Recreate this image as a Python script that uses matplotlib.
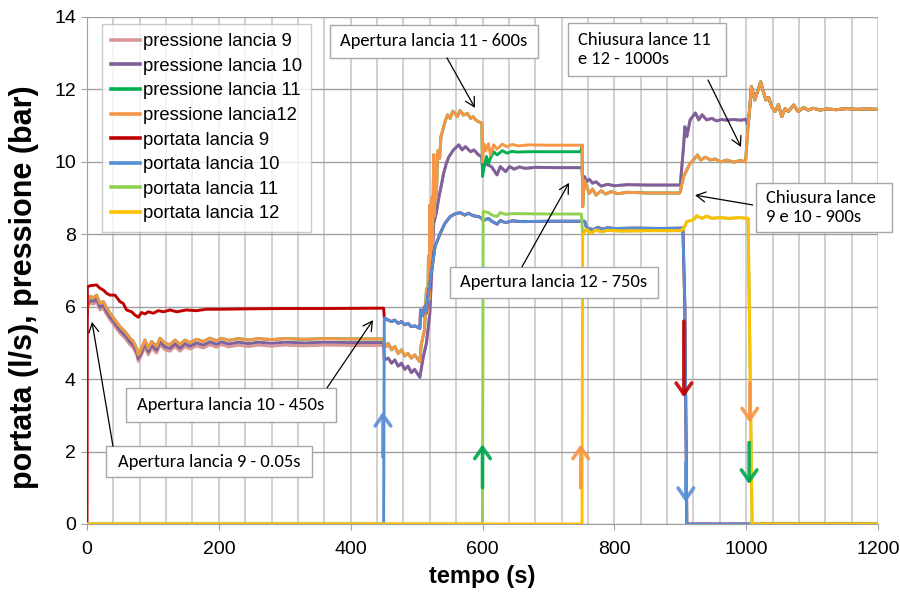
import matplotlib
matplotlib.use("Agg")
import matplotlib.pyplot as plt
import numpy as np
from matplotlib import font_manager
from matplotlib.patches import Rectangle


def pick(*names):
    avail = {f.name for f in font_manager.fontManager.ttflist}
    for n in names:
        if n in avail:
            return n
    return "DejaVu Sans"


ARIAL = pick("Liberation Sans", "Arial")
CALIBRI = pick("Carlito", "Lato", "Open Sans")

# ---------------------------------------------------------------- data
# pressione lancia 12 (bar), one block per phase
p12_t_a = [0, 1, 4.5, 10, 14.6, 19.7, 24.8, 29.8, 34.9, 42.5, 50, 57.6, 65.2, 70.2,
           75.3, 77.8, 82.9, 87.9, 93, 98, 105.6, 110.7, 118.3, 125.9, 133.5, 141,
           148.6, 156.2, 166.3, 176.4, 186.5, 196.6, 204.2, 215, 230, 245, 260, 280,
           300, 330, 360, 400, 449]
p12_v_a = [5.90, 6.15, 6.28, 6.25, 6.32, 6.09, 6.14, 5.96, 5.82, 5.63, 5.45, 5.31, 5.13,
           5.04, 4.85, 4.67, 4.85, 5.08, 4.85, 5.04, 4.90, 5.13, 4.99, 4.95, 5.08, 4.95,
           5.08, 5.01, 5.10, 5.04, 5.13, 5.06, 5.13, 5.07, 5.12, 5.08, 5.12, 5.09, 5.12,
           5.10, 5.12, 5.11, 5.11]
p12_t_b = [450, 451, 454, 457, 462, 467, 472, 477, 482, 487, 492, 497, 505, 507, 512,
           515, 517, 518, 519, 520, 521, 523, 524, 526, 527, 529, 530, 532, 535, 537,
           540, 543, 547, 551, 555, 558, 562, 566, 571, 577, 582, 586, 590, 594, 599]
p12_v_b = [5.11, 4.95, 4.90, 4.99, 4.81, 4.90, 4.71, 4.81, 4.64, 4.71, 4.58, 4.67, 4.48,
           4.95, 5.36, 6.50, 5.82, 7.40, 6.20, 8.80, 7.00, 9.00, 7.60, 10.20, 8.50, 9.70,
           9.00, 10.30, 10.10, 10.70, 10.90, 11.10, 11.30, 11.20, 11.40, 11.34, 11.25,
           11.42, 11.29, 11.34, 11.20, 11.25, 11.15, 11.11, 11.07]
p12_t_c = [600, 602, 605, 609, 612, 617, 622, 630, 637, 645, 655, 670, 700, 749]
p12_v_c = [10.00, 10.50, 10.30, 10.50, 10.19, 10.47, 10.35, 10.49, 10.42, 10.48, 10.44,
           10.47, 10.46, 10.46]
p12_t_d = [751, 752, 754, 757, 762, 767, 772, 780, 787, 795, 805, 820, 850, 899]
p12_v_d = [10.46, 8.76, 9.50, 9.36, 9.13, 9.25, 9.08, 9.20, 9.11, 9.18, 9.12, 9.16, 9.14,
           9.14]
p12_t_e = [900, 905, 910, 915, 920, 926, 931, 938, 946, 953, 961, 971, 981, 991, 999]
p12_v_e = [9.18, 9.59, 9.78, 9.96, 10.05, 10.19, 10.05, 10.13, 10.05, 10.08, 10.00, 10.05,
           9.99, 10.04, 10.00]
p_t_f = [1003, 1006, 1008, 1013, 1018, 1022, 1026, 1030, 1034, 1039, 1044, 1049, 1054,
         1059, 1064, 1072, 1079, 1087, 1094, 1102, 1112, 1122, 1137, 1152, 1168, 1183,
         1200]
p_v_f = [11.00, 11.62, 12.08, 11.71, 11.99, 12.21, 11.94, 11.71, 11.78, 11.51, 11.39,
         11.58, 11.25, 11.47, 11.39, 11.57, 11.39, 11.50, 11.43, 11.48, 11.43, 11.46,
         11.44, 11.47, 11.45, 11.46, 11.45]

# pressione lancia 11: follows lancia 12 except after the opening at 600 s
p11_t_c = [600, 603, 606, 609, 612, 617, 622, 630, 637, 645, 652, 670, 749]
p11_v_c = [9.60, 9.91, 10.15, 9.95, 10.10, 10.28, 10.19, 10.31, 10.24, 10.29, 10.27,
           10.28, 10.28]

# pressione lancia 10
p10_v_a = [5.80, 6.05, 6.18, 6.15, 6.22, 5.99, 6.04, 5.86, 5.72, 5.53, 5.35, 5.21, 5.03,
           4.94, 4.75, 4.57, 4.75, 4.98, 4.75, 4.94, 4.80, 5.03, 4.89, 4.85, 4.98, 4.85,
           4.98, 4.91, 5.00, 4.94, 5.03, 4.96, 5.03, 4.97, 5.02, 4.98, 5.02, 4.99, 5.02,
           5.00, 5.02, 5.01, 5.01]
p10_t_b = [450, 451, 457, 462, 467, 472, 477, 482, 487, 492, 497, 505, 510, 515, 520, 523,
           526, 530, 534, 537, 541, 545, 549, 556, 564, 569, 574, 582, 587, 594, 599]
p10_v_b = [5.01, 4.53, 4.58, 4.44, 4.53, 4.36, 4.44, 4.27, 4.36, 4.18, 4.27, 4.05, 4.60,
           5.00, 5.80, 7.00, 8.30, 8.60, 9.04, 9.30, 9.68, 9.95, 10.14, 10.33, 10.47,
           10.33, 10.42, 10.28, 10.33, 10.19, 10.14]
p10_t_c = [600, 604, 609, 614, 618, 622, 627, 635, 641, 648, 656, 665, 680, 710, 749]
p10_v_c = [9.82, 9.95, 9.91, 9.86, 9.75, 9.64, 9.87, 9.73, 9.87, 9.80, 9.86, 9.82, 9.85,
           9.84, 9.84]
p10_t_d = [751, 753, 755, 757, 762, 767, 772, 780, 790, 800, 820, 850, 899]
p10_v_d = [9.84, 9.10, 9.59, 9.45, 9.52, 9.41, 9.45, 9.33, 9.38, 9.34, 9.37, 9.36, 9.36]
p10_t_e = [900, 905, 907, 910, 915, 923, 928, 933, 940, 948, 955, 963, 970, 980, 993, 999]
p10_v_e = [9.36, 10.42, 10.97, 10.70, 11.16, 11.35, 11.16, 11.30, 11.16, 11.20, 11.13,
           11.17, 11.15, 11.17, 11.15, 11.18]

# pressione lancia 9: just under lancia 10 while it runs alone
p9_v_a = [5.72, 5.97, 6.10, 6.07, 6.14, 5.91, 5.96, 5.78, 5.64, 5.45, 5.27, 5.13, 4.95,
          4.86, 4.67, 4.49, 4.67, 4.90, 4.67, 4.86, 4.72, 4.95, 4.81, 4.77, 4.90, 4.77,
          4.90, 4.83, 4.92, 4.86, 4.95, 4.88, 4.95, 4.89, 4.94, 4.90, 4.94, 4.91, 4.94,
          4.92, 4.94, 4.93, 4.93]

# portata lancia 9 (l/s) up to the opening of lancia 10
q9_t_a = [0, 0.5, 4.5, 14.6, 19.7, 24.8, 29.8, 34.9, 42.5, 50, 55, 60, 67.7, 72.8, 77.8,
          82.9, 87.9, 93, 100.6, 108, 116, 126, 136, 151, 166, 181, 201, 240, 300, 360,
          450]
q9_v_a = [0, 6.55, 6.58, 6.60, 6.51, 6.46, 6.37, 6.32, 6.32, 6.14, 6.09, 5.91, 5.86,
          5.77, 5.71, 5.84, 5.80, 5.86, 5.82, 5.89, 5.86, 5.91, 5.86, 5.91, 5.89, 5.93,
          5.93, 5.94, 5.95, 5.95, 5.96]

# portata lancia 10 (and lancia 9 after 450 s)
q10_t = [0, 450, 451, 457, 462, 467, 472, 477, 482, 487, 492, 497, 505, 506, 509, 512,
         515, 517, 520, 523, 528, 536, 543, 551, 558, 566, 573, 579, 586, 594, 599, 601,
         609, 614, 622, 627, 635, 645, 660, 700, 755, 758, 768, 775, 782, 790, 800, 830,
         870, 904, 907, 910, 1200]
q10_v = [0, 0, 5.69, 5.63, 5.59, 5.63, 5.54, 5.59, 5.50, 5.54, 5.45, 5.47, 5.40, 5.91,
         5.75, 6.00, 5.85, 6.30, 6.60, 7.01, 7.66, 8.03, 8.30, 8.49, 8.56, 8.60, 8.53,
         8.58, 8.51, 8.49, 8.44, 8.38, 8.44, 8.36, 8.28, 8.38, 8.32, 8.37, 8.35, 8.36,
         8.36, 8.17, 8.13, 8.19, 8.14, 8.18, 8.16, 8.17, 8.16, 8.17, 6.00, 0, 0]

# portata lancia 12 (and lancia 11 after 750 s)
q12_t = [0, 751, 752, 757, 765, 772, 780, 790, 810, 850, 900, 905, 910, 920, 925, 933,
         940, 948, 960, 975, 990, 1003, 1009, 1200]
q12_v = [0, 0, 7.98, 8.14, 8.03, 8.12, 8.07, 8.11, 8.09, 8.10, 8.10, 8.15, 8.35, 8.40,
         8.51, 8.44, 8.50, 8.44, 8.46, 8.44, 8.46, 8.44, 0, 0]

# portata lancia 11 between 600 s and 750 s
q11_t_c = [0, 600, 601, 609, 614, 622, 627, 635, 645, 700, 750]
q11_v_c = [0, 0, 8.63, 8.60, 8.53, 8.49, 8.60, 8.55, 8.57, 8.56, 8.56]

labels = ["pressione lancia 9", "pressione lancia 10", "pressione lancia 11",
          "pressione lancia12", "portata lancia 9", "portata lancia 10",
          "portata lancia 11", "portata lancia 12"]
colors = ["#d99694", "#7f609f", "#00b050", "#f79646",
          "#c00000", "#558ed5", "#92d050", "#ffc000"]

# ------------------------------------------------------- assemble series
p12_t = p12_t_a + p12_t_b + p12_t_c + p12_t_d + p12_t_e + p_t_f
p12_v = p12_v_a + p12_v_b + p12_v_c + p12_v_d + p12_v_e + p_v_f
p11_t = p12_t_a + p12_t_b + p11_t_c + p12_t_d + p12_t_e + p_t_f
p11_v = p12_v_a + p12_v_b + p11_v_c + p12_v_d + p12_v_e + p_v_f
p10_t = p12_t_a + p10_t_b + p10_t_c + p10_t_d + p10_t_e + p_t_f
p10_v = p10_v_a + p10_v_b + p10_v_c + p10_v_d + p10_v_e + p_v_f
p9_t = p10_t
p9_v = p9_v_a + p10_v_b + p10_v_c + p10_v_d + p10_v_e + p_v_f
q9_t = q9_t_a + q10_t[2:]
q9_v = q9_v_a + q10_v[2:]
q11_t = q11_t_c + q12_t[2:]
q11_v = q11_v_c + q12_v[2:]

series = [(p9_t, p9_v), (p10_t, p10_v), (p11_t, p11_v), (p12_t, p12_v),
          (q9_t, q9_v), (q10_t, q10_v), (q11_t, q11_v), (q12_t, q12_v)]

# ---------------------------------------------------------------- figure
fig = plt.figure(figsize=(9, 5.92), dpi=100)
ax = fig.add_axes([87 / 900, 1 - 524 / 592, (878 - 87) / 900, (524 - 17) / 592])

for (t, v), lab, col in zip(series, labels, colors):
    ax.plot(t, v, color=col, lw=2.1, label=lab, solid_joinstyle="round", zorder=3)

ax.set_xlim(0, 1200)
ax.set_ylim(0, 14)
ax.set_xticks(np.arange(0, 1201, 200))
ax.set_xticks(np.arange(0, 1201, 40), minor=True)
ax.set_yticks(np.arange(0, 15, 2))
ax.grid(True, axis="x", which="both", color="#c8c8c8", lw=1.2, zorder=0)
ax.grid(True, axis="y", which="major", color="#a0a0a0", lw=1.0, zorder=0)
ax.set_axisbelow(True)
for s in ("top", "right"):
    ax.spines[s].set_visible(False)
ax.spines["left"].set_color("#a0a0a0")
ax.spines["bottom"].set_color("#a0a0a0")
ax.tick_params(which="major", length=4, color="#a0a0a0", labelsize=14, pad=4)
ax.tick_params(axis="x", which="major", pad=8)
ax.tick_params(which="minor", length=0)
for lab in ax.get_xticklabels() + ax.get_yticklabels():
    lab.set_fontfamily(ARIAL)

ax.set_xlabel("tempo (s)", fontsize=17, fontweight="bold", family=ARIAL, labelpad=5)
ax.set_ylabel("portata (l/s), pressione (bar)", fontsize=22, fontweight="bold",
              family=ARIAL, va="center", ha="center")
ax.yaxis.set_label_coords(-0.0796, 0.467)

leg = ax.legend(loc="upper left", bbox_to_anchor=(0.019, 0.986), borderaxespad=0,
                fancybox=False, frameon=True, edgecolor="#bfbfbf",
                prop={"family": ARIAL, "size": 13.3}, handlelength=1.55,
                handletextpad=0.15, labelspacing=0.41, borderpad=0.5)
leg.get_frame().set_linewidth(1.0)
for h in leg.get_lines():
    h.set_linewidth(2.6)

# ------------------------------------------------------- callout boxes
boxes = [
    ((28.8, 1.30), (341.3, 2.15), "Apertura lancia 9 - 0.05s", "center"),
    ((59.2, 2.825), (377.7, 3.755), "Apertura lancia 10 - 450s", "center"),
    ((368.6, 12.87), (684.2, 13.78), "Apertura lancia 11 - 600s", "center"),
    ((729.7, 12.37), (969.4, 13.83), "Chiusura lance 11\ne 12 - 1000s", "left"),
    ((1014.9, 8.06), (1221.2, 9.42), "Chiusura lance\n9 e 10 - 900s", "left"),
    ((550.7, 6.24), (866.2, 7.10), "Apertura lancia 12 - 750s", "center"),
]
for (x0, y0), (x1, y1), txt, align in boxes:
    ax.add_patch(Rectangle((x0, y0), x1 - x0, y1 - y0, facecolor="white",
                           edgecolor="#a6a6a6", lw=1.0, zorder=6, clip_on=False))
    if align == "center":
        tx, ha = (x0 + x1) / 2, "center"
    else:
        tx, ha = x0 + 15, "left"
    ax.text(tx, (y0 + y1) / 2, txt, ha=ha, va="center", fontsize=13.3,
            family=CALIBRI, linespacing=1.2, zorder=7, clip_on=False)

callout_arrows = [
    ((39.4, 2.15), (7.6, 5.58)),
    ((364.1, 3.76), (433.9, 5.63)),
    ((546.1, 12.87), (588.6, 11.49)),
    ((942.1, 12.26), (992.2, 10.41)),
    ((1010.0, 8.81), (922.4, 9.08)),
    ((659.9, 7.10), (731.2, 9.42)),
]
for start, tip in callout_arrows:
    ax.annotate("", xy=tip, xytext=start, zorder=8,
                arrowprops=dict(arrowstyle="->,head_length=0.55,head_width=0.3",
                                color="black", lw=0.9, shrinkA=0, shrinkB=0,
                                mutation_scale=12))

# ------------------------------------------------ opening / closing marks
event_arrows = [
    (449, 1.85, 3.1, "#5b8fd6"),
    (600, 1.0, 2.2, "#00a651"),
    (749, 1.0, 2.2, "#f79646"),
    (905.5, 5.6, 3.5, "#c00000"),
    (908.5, 1.7, 0.6, "#5b8fd6"),
    (1005.5, 3.9, 2.8, "#f79646"),
    (1004.5, 2.25, 1.1, "#00a651"),
]
for x, y0, y1, col in event_arrows:
    ax.annotate("", xy=(x, y1), xytext=(x, y0), zorder=9,
                arrowprops=dict(arrowstyle="->,head_length=0.5,head_width=0.35",
                                color=col, lw=2.6, shrinkA=0, shrinkB=0,
                                mutation_scale=16, alpha=0.9))

fig.savefig("out.png", dpi=100)
